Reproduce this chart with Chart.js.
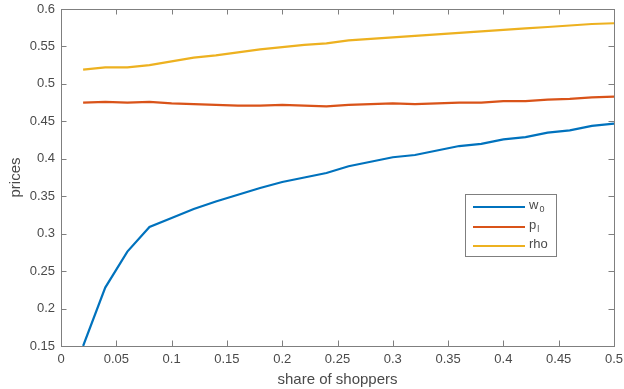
<!DOCTYPE html>
<html>
<head>
<meta charset="utf-8">
<script src="https://cdn.jsdelivr.net/npm/chart.js@4"></script>
<style>
  html, body { margin: 0; padding: 0; background: #fff; }
  #wrap { width: 624px; height: 389px; }
</style>
</head>
<body>
<div id="wrap"><canvas id="priceChart"></canvas></div>
<script>
// share of shoppers (x) and the three price series
const shares = [0.02, 0.04, 0.06, 0.08, 0.10, 0.12, 0.14, 0.16, 0.18, 0.20, 0.22, 0.24, 0.26,
                0.28, 0.30, 0.32, 0.34, 0.36, 0.38, 0.40, 0.42, 0.44, 0.46, 0.48, 0.50];
const w0 = [0.150, 0.228, 0.276, 0.309, 0.321, 0.333, 0.343, 0.352, 0.361, 0.369, 0.375, 0.381, 0.390,
            0.396, 0.402, 0.405, 0.411, 0.417, 0.420, 0.426, 0.429, 0.435, 0.438, 0.444, 0.447];
const pl = [0.475, 0.476, 0.475, 0.476, 0.474, 0.473, 0.472, 0.471, 0.471, 0.472, 0.471, 0.470, 0.472,
            0.473, 0.474, 0.473, 0.474, 0.475, 0.475, 0.477, 0.477, 0.479, 0.480, 0.482, 0.483];
const rho = [0.519, 0.522, 0.522, 0.525, 0.530, 0.535, 0.538, 0.542, 0.546, 0.549, 0.552, 0.554, 0.558,
             0.560, 0.562, 0.564, 0.566, 0.568, 0.570, 0.572, 0.574, 0.576, 0.578, 0.580, 0.581];

const xTicks = [0, 0.05, 0.1, 0.15, 0.2, 0.25, 0.3, 0.35, 0.4, 0.45, 0.5];
const yTicks = [0.15, 0.2, 0.25, 0.3, 0.35, 0.4, 0.45, 0.5, 0.55, 0.6];

const seriesNames = ['w', 'p', 'rho'];
const seriesSubs = ['0', 'l', ''];
const seriesColors = ['#0072BD', '#D95319', '#EDB120'];

const FONT = '"Liberation Sans", Arial, Helvetica, sans-serif';
const axisColor = '#7f7f7f';
const textColor = '#4a4a4a';

function toPoints(ys) {
    return shares.map((x, i) => ({x: x, y: ys[i]}));
}

// MATLAB style box with inward ticks on all four sides
const boxTicks = {
    id: 'boxTicks',
    afterDatasetsDraw(chart) {
        const {ctx, chartArea: a, scales} = chart;
        const len = 5.5;
        ctx.save();
        ctx.strokeStyle = axisColor;
        ctx.lineWidth = 1;
        ctx.beginPath();
        xTicks.forEach(v => {
            const x = Math.round(scales.x.getPixelForValue(v)) + 0.5;
            ctx.moveTo(x, a.bottom); ctx.lineTo(x, a.bottom - len);
            ctx.moveTo(x, a.top); ctx.lineTo(x, a.top + len);
        });
        yTicks.forEach(v => {
            const y = Math.round(scales.y.getPixelForValue(v)) + 0.5;
            ctx.moveTo(a.left, y); ctx.lineTo(a.left + len, y);
            ctx.moveTo(a.right, y); ctx.lineTo(a.right - len, y);
        });
        ctx.stroke();
        ctx.strokeRect(Math.round(a.left) + 0.5, Math.round(a.top) + 0.5,
                       Math.round(a.right - a.left), Math.round(a.bottom - a.top));
        ctx.restore();
    }
};

// legend box inside the axes, with subscripts
const boxLegend = {
    id: 'boxLegend',
    afterDraw(chart) {
        const ctx = chart.ctx;
        const bx = 465, by = 194, bw = 91, bh = 62;
        ctx.save();
        ctx.fillStyle = '#fff';
        ctx.fillRect(bx, by, bw, bh);
        ctx.strokeStyle = axisColor;
        ctx.lineWidth = 1;
        ctx.strokeRect(bx + 0.5, by + 0.5, bw, bh);
        const rows = [207, 227, 246];
        chart.data.datasets.forEach((ds, i) => {
            const y = rows[i];
            ctx.strokeStyle = ds.borderColor;
            ctx.lineWidth = 2.2;
            ctx.beginPath();
            ctx.moveTo(473, y);
            ctx.lineTo(525, y);
            ctx.stroke();
            ctx.fillStyle = textColor;
            ctx.textBaseline = 'middle';
            ctx.textAlign = 'left';
            ctx.font = '13px ' + FONT;
            ctx.fillText(seriesNames[i], 529, y - 2);
            if (seriesSubs[i]) {
                const w = ctx.measureText(seriesNames[i]).width;
                ctx.font = '9px ' + FONT;
                ctx.fillText(seriesSubs[i], 529 + w + 1, y + 3);
            }
        });
        ctx.restore();
    }
};

new Chart(document.getElementById('priceChart'), {
    type: 'line',
    data: {
        datasets: seriesNames.map((name, i) => ({
            label: name + seriesSubs[i],
            data: toPoints([w0, pl, rho][i]),
            borderColor: seriesColors[i],
            backgroundColor: seriesColors[i],
            borderWidth: 2.2,
            pointRadius: 0,
            tension: 0,
            fill: false
        }))
    },
    options: {
        responsive: true,
        maintainAspectRatio: false,
        animation: false,
        layout: {padding: {top: 9, right: 10, left: 0, bottom: 0}},
        plugins: {
            legend: {display: false},
            tooltip: {enabled: false}
        },
        scales: {
            x: {
                type: 'linear',
                min: 0,
                max: 0.5,
                afterFit: s => { s.height = 43; s.paddingLeft = 0; s.paddingRight = 0; },
                afterBuildTicks: s => { s.ticks = xTicks.map(v => ({value: v})); },
                grid: {display: false, drawTicks: false},
                border: {display: false},
                ticks: {
                    color: textColor,
                    font: {family: FONT, size: 13},
                    padding: 6,
                    maxRotation: 0,
                    autoSkip: false,
                    callback: v => String(+v.toFixed(2))
                },
                title: {
                    display: true,
                    text: 'share of shoppers',
                    color: textColor,
                    font: {family: FONT, size: 15},
                    padding: {top: 0, bottom: 0}
                }
            },
            y: {
                type: 'linear',
                min: 0.15,
                max: 0.6,
                afterFit: s => { s.width = 61; s.paddingTop = 0; s.paddingBottom = 0; },
                afterBuildTicks: s => { s.ticks = yTicks.map(v => ({value: v})); },
                grid: {display: false, drawTicks: false},
                border: {display: false},
                ticks: {
                    color: textColor,
                    font: {family: FONT, size: 13},
                    padding: 6,
                    autoSkip: false,
                    callback: v => String(+v.toFixed(2))
                },
                title: {
                    display: true,
                    text: 'prices',
                    color: textColor,
                    font: {family: FONT, size: 15},
                    padding: {top: 7, bottom: 0}
                }
            }
        }
    },
    plugins: [boxTicks, boxLegend]
});
</script>
</body>
</html>
